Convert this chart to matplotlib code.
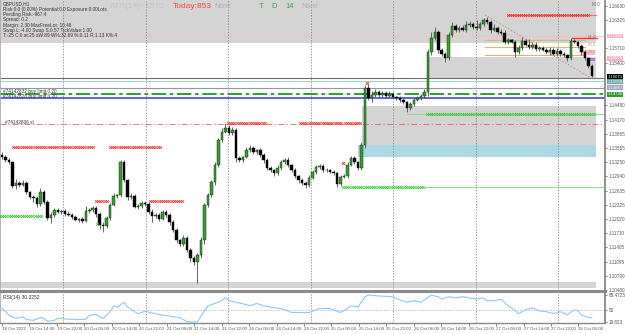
import numpy as np
import matplotlib.pyplot as plt
from matplotlib.patches import Rectangle

W, H = 625, 334
PX_BAR = 3.49       # pixels per bar
PIP = 0.0001

# ---- data ----
first_open = 1.1340
close = [
    1.1336, 1.1330, 1.1325, 1.1273, 1.1280, 1.1276, 1.1280, 1.1260, 1.1250, 1.1247,
    1.1234, 1.1260, 1.1239, 1.1204, 1.1211, 1.1221, 1.1217, 1.1219, 1.1213, 1.1211,
    1.1206, 1.1200, 1.1202, 1.1198, 1.1219, 1.1221, 1.1226, 1.1213, 1.1189, 1.1187,
    1.1204, 1.1232, 1.1252, 1.1254, 1.1325, 1.1286, 1.1250, 1.1252, 1.1228, 1.1230,
    1.1237, 1.1234, 1.1217, 1.1208, 1.1211, 1.1202, 1.1217, 1.1211, 1.1195, 1.1178,
    1.1156, 1.1148, 1.1161, 1.1135, 1.1117, 1.1109, 1.1124, 1.1156, 1.1232, 1.1254,
    1.1282, 1.1319, 1.1373, 1.1390, 1.1399, 1.1388, 1.1395, 1.1334, 1.1330, 1.1336,
    1.1351, 1.1356, 1.1347, 1.1351, 1.1340, 1.1330, 1.1312, 1.1308, 1.1301, 1.1312,
    1.1325, 1.1330, 1.1319, 1.1308, 1.1295, 1.1286, 1.1280, 1.1276, 1.1291, 1.1304,
    1.1314, 1.1317, 1.1308, 1.1308, 1.1304, 1.1301, 1.1278, 1.1293, 1.1295, 1.1319,
    1.1334, 1.1325, 1.1312, 1.1362, 1.1486, 1.1464, 1.1470, 1.1477, 1.1470, 1.1475,
    1.1468, 1.1472, 1.1466, 1.1464, 1.1460, 1.1455, 1.1442, 1.1451, 1.1460, 1.1464,
    1.1468, 1.1477, 1.1563, 1.1594, 1.1607, 1.1568, 1.1559, 1.1550, 1.1600, 1.1620,
    1.1611, 1.1615, 1.1611, 1.1622, 1.1624, 1.1618, 1.1615, 1.1624, 1.1633, 1.1628,
    1.1611, 1.1615, 1.1607, 1.1605, 1.1585, 1.1589, 1.1585, 1.1563, 1.1572, 1.1587,
    1.1579, 1.1574, 1.1579, 1.1570, 1.1572, 1.1568, 1.1563, 1.1568, 1.1559, 1.1566,
    1.1559, 1.1557, 1.1550, 1.1587, 1.1585, 1.1576, 1.1563, 1.1550, 1.1533, 1.1512,
]
# wick lengths in pips above / below the body
up_wick = [
    6, 4, 5, 3, 8, 4, 6, 5, 3, 4,
    5, 8, 4, 3, 6, 4, 5, 3, 4, 6,
    3, 4, 3, 5, 12, 4, 5, 3, 4, 6,
    4, 5, 6, 3, 4, 5, 3, 6, 4, 5,
    3, 4, 5, 6, 4, 3, 5, 4, 3, 4,
    5, 3, 6, 4, 3, 5, 4, 6, 5, 4,
    5, 6, 4, 8, 10, 6, 5, 4, 5, 3,
    6, 5, 4, 3, 4, 5, 3, 4, 3, 6,
    5, 4, 6, 3, 4, 3, 5, 4, 6, 5,
    4, 5, 3, 4, 3, 4, 3, 5, 4, 6,
    5, 4, 3, 6, 5, 8, 9, 6, 5, 4,
    5, 6, 4, 3, 5, 4, 3, 5, 4, 5,
    4, 6, 6, 12, 10, 4, 3, 4, 6, 8,
    5, 4, 6, 8, 6, 5, 14, 5, 4, 6,
    4, 10, 4, 6, 5, 4, 3, 5, 6, 8,
    4, 12, 5, 6, 4, 5, 4, 6, 4, 5,
    4, 5, 3, 6, 4, 3, 4, 5, 3, 4,
]
dn_wick = [
    4, 5, 3, 5, 6, 4, 3, 5, 4, 8,
    6, 4, 5, 4, 10, 4, 3, 5, 4, 3,
    4, 3, 5, 4, 3, 4, 5, 6, 8, 14,
    5, 4, 3, 4, 5, 3, 6, 4, 3, 5,
    4, 3, 5, 12, 4, 5, 3, 4, 6, 5,
    6, 5, 4, 5, 8, 6, 46, 6, 8, 5,
    4, 6, 5, 4, 3, 5, 4, 8, 4, 5,
    3, 4, 5, 4, 3, 6, 4, 5, 6, 4,
    3, 5, 4, 4, 5, 6, 4, 8, 5, 3,
    4, 3, 5, 4, 3, 4, 6, 5, 3, 4,
    3, 4, 5, 4, 6, 5, 8, 4, 5, 3,
    4, 5, 3, 4, 5, 4, 8, 4, 5, 3,
    4, 5, 8, 5, 4, 6, 4, 8, 3, 4,
    4, 5, 3, 4, 5, 4, 3, 4, 5, 4,
    6, 3, 5, 4, 4, 5, 3, 10, 4, 5,
    3, 4, 5, 4, 5, 3, 4, 5, 3, 4,
    5, 4, 6, 4, 3, 5, 6, 4, 5, 3,
]

rsi_bar = [0, 1, 2, 4, 6, 7, 9, 11, 12, 13, 15, 16, 17, 19, 22, 24, 25, 27, 28, 29,
           31, 32, 33, 35, 36, 38, 39, 41, 43, 45, 48, 51, 53, 55, 56, 57, 59, 60, 62, 64,
           65, 67, 70, 71, 73, 75, 78, 80, 83, 86, 88, 91, 94, 97, 99, 100, 102, 104, 105, 108,
           112, 113, 116, 118, 120, 123, 125, 126, 128, 130, 132, 134, 136, 138, 139, 141, 143,
           145, 146, 148, 150, 152, 154, 156, 158, 160, 162, 164, 165, 166, 168, 169]
rsi_val = [54, 47, 37, 29, 33, 26, 24, 31, 29, 22, 24, 29, 29, 27, 26, 27, 37, 39, 33, 29,
           46, 61, 58, 70, 58, 46, 41, 47, 43, 39, 35, 31, 21, 19.8, 20, 35, 61, 64, 70, 81,
           74, 70, 64, 61, 67, 61, 56, 54, 44, 44, 44, 54, 54, 44, 54, 61, 58, 84, 88.47, 86,
           84, 79, 70, 74, 70, 88, 84, 78, 84, 81, 84, 81, 78, 81, 74, 74, 78,
           61, 56, 41, 51, 56, 48, 46, 41, 46, 38, 51, 49, 38, 31, 30.3]

price_ticks = [1.10480, 1.10790, 1.11095, 1.11405, 1.11710, 1.12020, 1.12325, 1.12635,
               1.12940, 1.13250, 1.13555, 1.13865, 1.14170, 1.14480, 1.15400, 1.15710,
               1.16325, 1.16630]
rsi_ticks = [19.823, 50, 88.4725]
rsi_tick_labels = ["19.823", "50", "88.4725"]

date_labels = ["18 Oct 2022", "19 Oct 14:00", "19 Oct 22:00", "20 Oct 06:00", "20 Oct 14:00",
               "20 Oct 22:00", "21 Oct 06:00", "21 Oct 14:00", "21 Oct 22:00", "24 Oct 06:00",
               "24 Oct 14:00", "24 Oct 22:00", "25 Oct 06:00", "25 Oct 14:00", "25 Oct 22:00",
               "26 Oct 06:00", "26 Oct 14:00", "26 Oct 22:00", "27 Oct 06:00", "27 Oct 14:00",
               "27 Oct 22:00", "28 Oct 06:00"]

info_lines = ["GBPUSD,H1",
              "Risk:0.0 (0.00%) Potential:0.0 Exposure:0.00Lots",
              "Pending Risk:-967.4",
              "Spread: 0.2",
              "Margin: 2.30 MaxFreeLot: 10.46",
              "Swap L:-4.00 Swap S:0.57 TickValue:1.00",
              "T:-25 C:0 at:25 aW:89 W%:32.69 %:0.11 R:1.13 K%:4"]

# levels of the objects drawn on the chart
zone_top = (1.1583, 1.1676)
zone_mid = (1.1507, 1.1553)
zone_low = (1.1362, 1.1447)
zone_blue = (1.1336, 1.1362)
zone_bottom = (1.1052, 1.1065)
bid_price = 1.1507
line_teal = 1.1501
line_steel = 1.1485
buy_limit_1 = 1.1472
buy_limit_2 = 1.1463
stop_loss = 1.1408
pink_level = 1.1598
fib_levels = [1.1589, 1.1574, 1.1557]
fib_names = ["61.8", "50.0", "38.2"]
tag_labels = [(1.1598, "1.15980", "#f7b3c2", "white"),
              (1.1550, "1.15500", "#f7b3c2", "white"),
              (1.1510, "1.15071", "black", "white"),
              (1.1499, "1.15008", "#6aa3a8", "white"),
              (1.1486, "1.14867", "#9aaab8", "white"),
              (1.1472, "1.14730", "#2e9b2e", "white")]


def bx(px):
    """pixel x -> bar units"""
    return (px - 2) / PX_BAR


close = np.array(close)
op = np.r_[first_open, close[:-1]]
hi = np.maximum(op, close) + np.array(up_wick) * PIP
lo = np.minimum(op, close) - np.array(dn_wick) * PIP
xb = np.arange(len(close))

plt.rcParams['font.family'] = ['Liberation Sans', 'DejaVu Sans']
fig = plt.figure(figsize=(W / 100, H / 100), dpi=100)
ax = fig.add_axes([0, 1 - 291 / H, 605 / W, 291 / H])
rx = fig.add_axes([0, 1 - 323 / H, 605 / W, 31 / H])

ymax = 1.1676
ax.set_ylim(ymax - 0.0002165 * 291, ymax)
ax.set_xlim(bx(0), bx(605))
rx.set_xlim(bx(0), bx(605))
rx.set_ylim(17.28, 96.1)

GRAY = '#d4d4d4'


def zone(x0, x1, rng, color):
    ax.add_patch(Rectangle((bx(x0), rng[0]), bx(x1) - bx(x0), rng[1] - rng[0],
                           color=color, lw=0, zorder=0))


zone(0, 596, zone_top, GRAY)
zone(427, 596, zone_mid, GRAY)
zone(362, 596, zone_low, GRAY)
zone(358, 596, zone_blue, '#add8e6')
zone(0, 596, zone_bottom, GRAY)

# vertical grid
grid_px = [63 + 82.5 * j for j in range(7)]
for g in grid_px:
    ax.axvline(bx(g), color='#777777', ls=(0, (2, 2)), lw=0.5, zorder=1)
    rx.axvline(bx(g), color='#777777', ls=(0, (2, 2)), lw=0.5, zorder=1)

# horizontal lines
ax.axhline(pink_level, color='#f5c0c0', lw=0.6, zorder=1)
ax.axhline(bid_price, color='#707070', lw=0.8, zorder=2)
ax.axhline(line_teal, color='#a8d0d0', lw=0.8, zorder=2)
ax.axhline(line_steel, color='#8899aa', lw=0.8, zorder=2)
ax.axhline(buy_limit_1, color='#1a9a1a', lw=1.3, ls=(0, (8, 2, 2, 2)), zorder=2)
ax.axhline(buy_limit_2, color='#4444ee', lw=1.2, zorder=2)
ax.axhline(stop_loss, color='#f06060', lw=0.6, ls=(0, (7, 3, 1.5, 3)), zorder=2)
ax.plot([bx(406), bx(605)], [1.1429, 1.1429], color='#8fdc8f', lw=0.7, zorder=2)
ax.plot([bx(425), bx(605)], [1.1271, 1.1271], color='#8fdc8f', lw=0.7, zorder=2)
ax.plot([bx(508), bx(596)], [1.1644, 1.1644], color='#f07070', lw=0.8, zorder=2)

# fib block
for lev in fib_levels:
    ax.plot([bx(485), bx(585)], [lev, lev], color='#d8b878', lw=0.8, zorder=2)
ax.plot([bx(572), bx(597)], [1.1594, 1.1594], color='#ee3333', lw=0.9, zorder=5)
ax.add_patch(Rectangle((bx(582), 1.1557), bx(595) - bx(582), 0.0011, color='#f9b8c8', lw=0, zorder=2))
ax.add_patch(Rectangle((bx(587), 1.1544), bx(595) - bx(587), 0.0006, color='#b37ad8', lw=0, zorder=2))
ax.add_patch(Rectangle((bx(507), 1.1583), bx(514) - bx(507), 0.0008, color='#66c266', lw=0, zorder=2))
ax.plot([bx(485), bx(594)], [1.1644, 1.1503], color='#d08080', lw=0.6, ls=(0, (2, 2)), zorder=2)
for lev, nm, c in zip([1.1596, 1.1579, 1.1564], fib_names, ['#e05050', '#c0a060', '#c0a060']):
    ax.text(bx(588), lev, nm, fontsize=3.2, color=c, va='center', zorder=6)


# x-marker rows
def xrow(x0, x1, lev, color):
    xs = np.arange(bx(x0), bx(x1), 0.62)
    ax.plot(xs, np.full(len(xs), lev), ls='none', marker='x', ms=1.9, mew=0.55, color=color, zorder=5)


RED, GRN = '#ff3030', '#33cc33'
xrow(508, 590, 1.1644, RED)
xrow(13, 95, 1.1358, RED)
xrow(110, 160, 1.1358, RED)
xrow(96, 108, 1.1241, RED)
xrow(150, 183, 1.1241, RED)
xrow(228, 265, 1.1410, RED)
xrow(300, 343, 1.1410, RED)
xrow(345, 362, 1.1410, RED)
xrow(427, 595, 1.1429, GRN)
xrow(343, 425, 1.1271, GRN)
xrow(0, 43, 1.1208, GRN)
ax.plot([bx(97)], [1.1191], ls='none', marker='x', ms=2, mew=0.6, color=GRN, zorder=5)
ax.plot([bx(343)], [1.1323], ls='none', marker='x', ms=2, mew=0.7, color=RED, zorder=5)
ax.plot([bx(367)], [1.1496], ls='none', marker='x', ms=2, mew=0.7, color=RED, zorder=5)

# candles
ax.vlines(xb, lo, hi, color='#505050', lw=0.6, zorder=3)
body = np.maximum(np.abs(close - op), 0.00005)
bot = np.minimum(op, close)
up = close >= op
ax.bar(xb[up], body[up], bottom=bot[up], width=0.72, color='#33a02c',
       edgecolor='#1a1a1a', lw=0.3, zorder=4)
ax.bar(xb[~up], body[~up], bottom=bot[~up], width=0.72, color='black',
       edgecolor='black', lw=0.3, zorder=4)

# price axis
LBL = 3.3
ax.yaxis.tick_right()
ax.set_yticks(price_ticks)
ax.set_yticklabels([f"{p:.5f}" for p in price_ticks])
ax.tick_params(axis='y', labelsize=LBL, length=1.5, pad=1.2, colors='#555555', width=0.5)
ax.set_xticks([])
for p, t, bg, fg in tag_labels:
    ax.text(1.004, p, t, transform=ax.get_yaxis_transform(), fontsize=3.1, color=fg,
            va='center', ha='left', clip_on=False, zorder=7,
            bbox=dict(boxstyle='square,pad=0.1', fc=bg, ec='none'))

for s in ['top', 'bottom']:
    ax.spines[s].set_visible(False)
ax.spines['left'].set_color('#aaaaaa')
ax.spines['left'].set_linewidth(0.6)
ax.spines['right'].set_color('#888888')
ax.spines['right'].set_linewidth(1.3)

# RSI panel
rx.axhline(50, color='#aaaaaa', lw=0.5, ls=(0, (2, 2)))
rx.plot(rsi_bar, rsi_val, color='#8ec8f8', lw=0.8, zorder=3)
rx.yaxis.tick_right()
rx.set_yticks(rsi_ticks)
rx.set_yticklabels(rsi_tick_labels)
rx.tick_params(axis='y', labelsize=LBL, length=1.5, pad=1.2, colors='#555555', width=0.5)
rx.set_xticks([bx(2 + 27.45 * k) for k in range(len(date_labels))])
rx.set_xticklabels(date_labels)
rx.tick_params(axis='x', labelsize=3.2, length=2, pad=1.2, colors='#555555', width=0.5)
for lab in rx.get_xticklabels():
    lab.set_ha('left')
rx.spines['top'].set_visible(False)
rx.spines['left'].set_color('#aaaaaa')
rx.spines['left'].set_linewidth(0.6)
rx.spines['right'].set_color('#888888')
rx.spines['right'].set_linewidth(1.3)
rx.spines['bottom'].set_color('#888888')
rx.spines['bottom'].set_linewidth(1.0)

# separator between panels
fig.add_artist(plt.Line2D([0, 605 / W], [1 - 290.5 / H] * 2, color='#8a8a8a', lw=2.2))


def ftext(x, y, s, **kw):
    fig.text(x / W, 1 - y / H, s, va='center', ha='left', **kw)


for k, line in enumerate(info_lines):
    ftext(3, 4 + 5.3 * k, line, fontsize=3.4, color='#333333')
ftext(110, 6, "ATR(14)=1570", fontsize=6, color='#c4c4c4')
ftext(173, 6, "Today:853", fontsize=6, color='#ff4444')
ftext(214, 6, "None", fontsize=5, color='#b0b0b0')
ftext(259, 6, "T", fontsize=5.5, color='#40a840')
ftext(271, 6, "D", fontsize=5.5, color='#40a840')
ftext(285, 6, "14", fontsize=5.5, color='#40a840')
ftext(301, 6, "None", fontsize=5, color='#b0b0b0')
ftext(592, 5, "M-O", fontsize=3.4, color='#777777')
ftext(3, 91, "#74142832 buy limit 0.20", fontsize=3.4, color='#333333')
ftext(3, 96, "#74142828 buy limit 0.20", fontsize=3.4, color='#333333')
ftext(5, 122, "#74142806 sl", fontsize=3.4, color='#333333')
ftext(3, 297, "RSI(14) 30.3252", fontsize=3.6, color='#333333')

fig.savefig("out.png", dpi=100)
